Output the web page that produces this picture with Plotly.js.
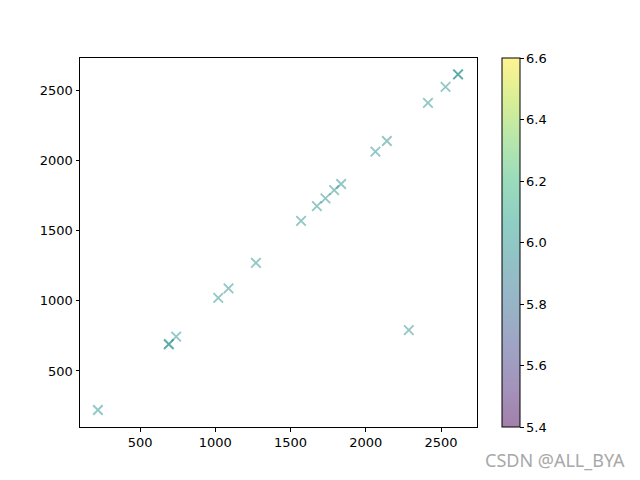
<!DOCTYPE html>
<html>
<head>
<meta charset="utf-8">
<script src="https://cdn.plot.ly/plotly-3.0.1.min.js"></script>
<style>html,body{margin:0;padding:0;background:#fff;}#chart{width:640px;height:480px;}</style>
</head>
<body>
<div id="chart"></div>
<script>
const xValues = [220, 690, 692, 740, 1020, 1088, 1270, 1570, 1675, 1732, 1790, 1836, 2064, 2140, 2286, 2413, 2530, 2612, 2614];
const yValues = [222, 690, 692, 744, 1021, 1088, 1270, 1569, 1674, 1729, 1788, 1831, 2061, 2137, 791, 2409, 2523, 2611, 2612];
const colorValue = 6;
const colorTicks = [5.4, 5.6, 5.8, 6.0, 6.2, 6.4, 6.6];

const viridis = [
  [0.0, 'rgba(68,1,84,0.5)'], [0.111, 'rgba(72,40,120,0.5)'], [0.222, 'rgba(62,73,137,0.5)'],
  [0.333, 'rgba(49,104,142,0.5)'], [0.444, 'rgba(38,130,142,0.5)'], [0.556, 'rgba(31,158,137,0.5)'],
  [0.667, 'rgba(53,183,121,0.5)'], [0.778, 'rgba(110,206,88,0.5)'], [0.889, 'rgba(181,222,43,0.5)'],
  [1.0, 'rgba(253,231,37,0.5)']
];

const trace = {
  x: xValues, y: yValues, type: 'scatter', mode: 'markers',
  marker: {
    symbol: 'x-thin-open', size: 9.5,
    color: xValues.map(() => colorValue),
    colorscale: viridis, cmin: 5.4, cmax: 6.6, showscale: true,
    line: {width: 1.8},
    colorbar: {
      x: 1.063, xanchor: 'left', xref: 'paper', y: 0.5, yanchor: 'middle', len: 1, lenmode: 'fraction',
      thickness: 18, thicknessmode: 'pixels', outlinecolor: '#000', outlinewidth: 1,
      tickvals: colorTicks, ticktext: colorTicks.map(v => v.toFixed(1)),
      ticks: 'outside', ticklen: 3.5, tickcolor: '#000', tickfont: {family: 'DejaVu Sans', size: 13, color: '#000'},
      xpad: 0, ypad: 0, borderwidth: 0
    }
  },
  hoverinfo: 'x+y'
};

const axisCommon = {
  showgrid: false, zeroline: false, showline: true, mirror: true, linecolor: '#000', linewidth: 1,
  ticks: 'outside', ticklen: 3.5, tickcolor: '#000', tickfont: {family: 'DejaVu Sans', size: 13, color: '#000'}
};

const layout = {
  width: 640, height: 480,
  margin: {l: 80, r: 163, t: 58, b: 53},
  paper_bgcolor: '#fff', plot_bgcolor: '#fff',
  showlegend: false,
  xaxis: Object.assign({}, axisCommon, {range: [101, 2739], tickvals: [500, 1000, 1500, 2000, 2500]}),
  yaxis: Object.assign({}, axisCommon, {range: [101, 2728], tickvals: [500, 1000, 1500, 2000, 2500]}),
  annotations: [{
    text: 'CSDN @ALL_BYA', xref: 'paper', yref: 'paper', x: 1 + 150/397, y: -33/369,
    xanchor: 'right', yanchor: 'middle', showarrow: false,
    font: {family: 'Noto Sans', size: 18, color: '#a8a8a8'}
  }]
};

Plotly.newPlot('chart', [trace], layout, {displayModeBar: false, staticPlot: true});
</script>
</body>
</html>
